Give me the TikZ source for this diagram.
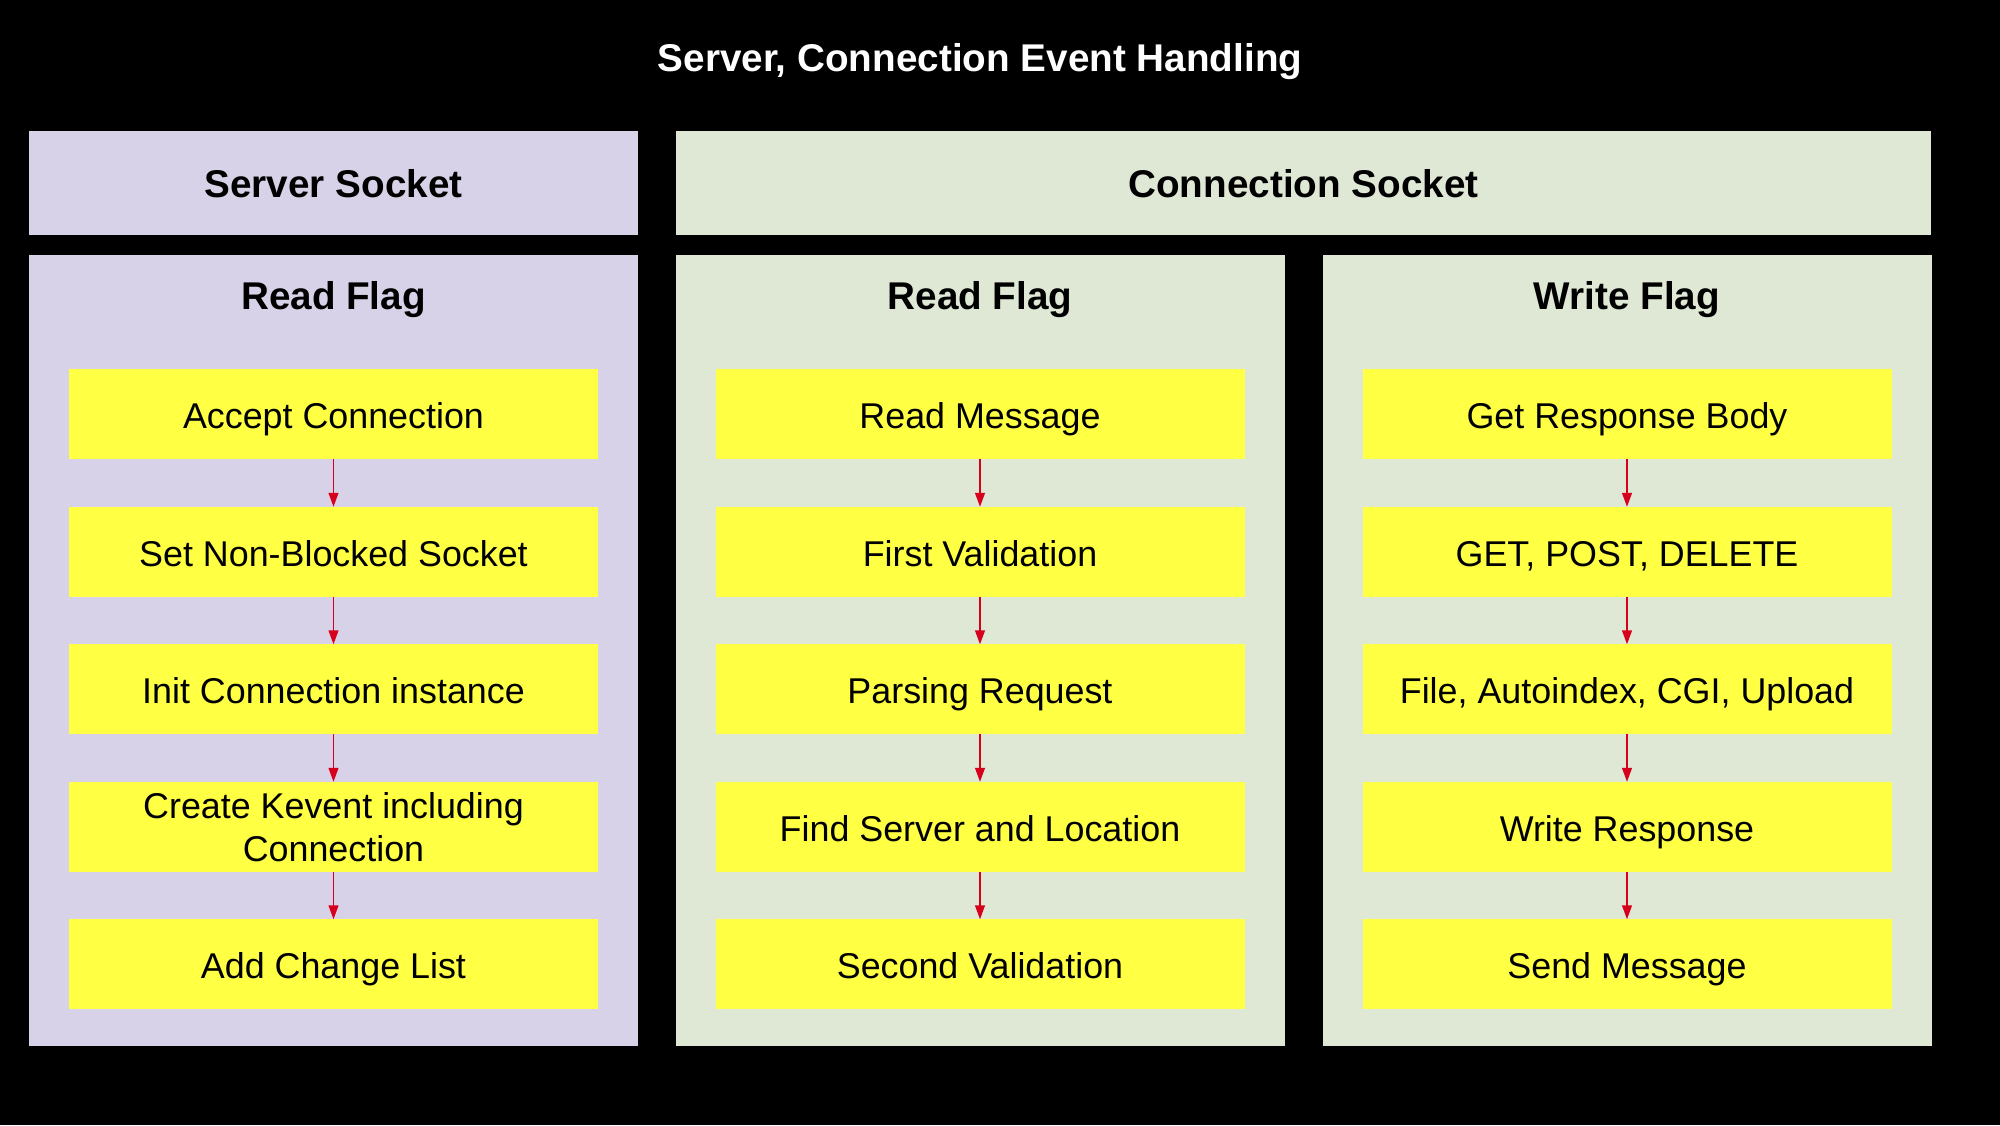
\documentclass[tikz,border=0pt]{standalone}
\usepackage{fontspec}
\setmainfont{Liberation Sans}
\usetikzlibrary{arrows.meta, positioning}
\definecolor{ServerLilac}{HTML}{D8D2E8}
\definecolor{ConnGreen}{HTML}{DEE8D5}
\definecolor{StepYellow}{HTML}{FFFF44}
\definecolor{FlowRed}{HTML}{D6001C}

\begin{document}
\begin{tikzpicture}[node distance=0.475cm,
        line/.style={text height=1.05em, text depth=0.23em},
        head/.style={draw=none, minimum height=1.04cm, inner sep=0pt, line, font=\fontsize{11}{13}\selectfont\bfseries},
        panel/.style={draw=none, minimum width=6.09cm, minimum height=7.91cm, inner sep=0pt},
        flag/.style={line, font=\fontsize{11}{13}\selectfont\bfseries},
        stepbox/.style={draw=none, fill=StepYellow, minimum width=5.29cm, minimum height=0.9cm, inner sep=0pt, outer sep=0pt, align=center, font=\fontsize{10.2}{12.3}\selectfont},
        flow/.style={-{Triangle[length=4pt, width=2.8pt]}, FlowRed, line width=0.5pt}]

        % Background
        \fill[black] (0,0) rectangle (20,-11.25);
        \useasboundingbox (0,0) rectangle (20,-11.25);

        % Title
        \node[line, text=white, font=\fontsize{11}{13}\selectfont\bfseries] (title) at (9.80,-0.57) {Server, Connection Event Handling};

        % Headers
        \node[head, fill=ServerLilac, minimum width=6.09cm] (srvhead) at (3.335,-1.83) {Server Socket};
        \node[head, fill=ConnGreen, minimum width=12.55cm] (connhead) at (13.035,-1.83) {Connection Socket};

        % Panels
        \node[panel, fill=ServerLilac] (srvread) at (3.335,-6.505) {};
        \node[panel, fill=ConnGreen] (connread) at (9.80,-6.505) {};
        \node[panel, fill=ConnGreen] (connwrite) at (16.27,-6.505) {};

        \node[flag] (srvreadflag) at ([yshift=-0.408cm]srvread.north) {Read Flag};
        \node[flag] (connreadflag) at ([yshift=-0.408cm]connread.north) {Read Flag};
        \node[flag] (connwriteflag) at ([yshift=-0.408cm]connwrite.north) {Write Flag};

        % Server socket, read flag
        \node[stepbox, line, below=1.15cm of srvread.north] (accept) {Accept Connection};
        \node[stepbox, line, below=of accept] (nonblock) {Set Non-Blocked Socket};
        \node[stepbox, line, below=of nonblock] (initconn) {Init Connection instance};
        \node[stepbox, below=of initconn] (kevent) {Create Kevent including\\Connection};
        \node[stepbox, line, below=of kevent] (changelist) {Add Change List};

        % Connection socket, read flag
        \node[stepbox, line, below=1.15cm of connread.north] (readmsg) {Read Message};
        \node[stepbox, line, below=of readmsg] (firstval) {First Validation};
        \node[stepbox, line, below=of firstval] (parsereq) {Parsing Request};
        \node[stepbox, line, below=of parsereq] (findloc) {Find Server and Location};
        \node[stepbox, line, below=of findloc] (secondval) {Second Validation};

        % Connection socket, write flag
        \node[stepbox, line, below=1.15cm of connwrite.north] (getbody) {Get Response Body};
        \node[stepbox, line, below=of getbody] (methods) {GET, POST, DELETE};
        \node[stepbox, line, below=of methods] (handlers) {File, Autoindex, CGI, Upload};
        \node[stepbox, line, below=of handlers] (writeresp) {Write Response};
        \node[stepbox, line, below=of writeresp] (sendmsg) {Send Message};

        % Arrows
        \draw[flow] (accept.south) -- (nonblock.north);
        \draw[flow] (nonblock.south) -- (initconn.north);
        \draw[flow] (initconn.south) -- (kevent.north);
        \draw[flow] (kevent.south) -- (changelist.north);

        \draw[flow] (readmsg.south) -- (firstval.north);
        \draw[flow] (firstval.south) -- (parsereq.north);
        \draw[flow] (parsereq.south) -- (findloc.north);
        \draw[flow] (findloc.south) -- (secondval.north);

        \draw[flow] (getbody.south) -- (methods.north);
        \draw[flow] (methods.south) -- (handlers.north);
        \draw[flow] (handlers.south) -- (writeresp.north);
        \draw[flow] (writeresp.south) -- (sendmsg.north);
    \end{tikzpicture}
\end{document}
